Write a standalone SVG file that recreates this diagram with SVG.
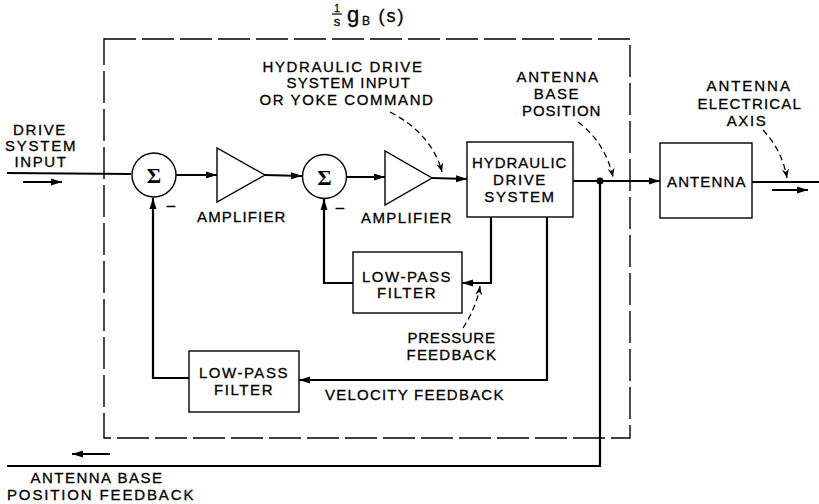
<svg xmlns="http://www.w3.org/2000/svg" width="819" height="504" viewBox="0 0 819 504">
<style>
text{font-family:"Liberation Sans",Arial,sans-serif;font-size:15px;fill:#000;stroke:#000;stroke-width:0.3;text-anchor:middle;letter-spacing:1.6px}
.ln{stroke:#000;stroke-width:2.2;fill:none}
.box{stroke:#000;stroke-width:1.4;fill:#fff}
.dash{stroke:#000;stroke-width:1.4;stroke-dasharray:32 6;fill:none}
.lead{stroke:#000;stroke-width:1.3;stroke-dasharray:6 4;fill:none}
.sig{font-family:"Liberation Serif","Times New Roman",serif;font-weight:bold;font-size:22px;letter-spacing:0;stroke-width:0}
</style>
<defs>
<marker id="ah" markerUnits="userSpaceOnUse" markerWidth="12" markerHeight="8" refX="11" refY="4" orient="auto">
<path d="M0,0.5 L11,4 L0,7.5 z" fill="#000"/>
</marker>
<marker id="lh" markerUnits="userSpaceOnUse" markerWidth="10" markerHeight="8" refX="9" refY="4" orient="auto">
<path d="M0,0.5 L9,4 L0,7.5 L3,4 z" fill="#000"/>
</marker>
</defs>

<g id="boundary">
<rect class="dash" x="104" y="39" width="526" height="399"/>
<g id="title">
<text x="337" y="12" style="font-size:10px;letter-spacing:0">1</text>
<line x1="332" y1="14" x2="342" y2="14" stroke="#000" stroke-width="1.2"/>
<text x="337" y="26" style="font-size:13px;letter-spacing:0">s</text>
<text x="353" y="22" style="font-size:22px;letter-spacing:0">g</text>
<text x="366" y="25" style="font-size:12px;letter-spacing:0">B</text>
<text x="392" y="22" style="font-size:18px;letter-spacing:2px">(s)</text>
</g>
</g>

<g id="connectors">
<path class="ln" d="M7,173 L131,174"/>
<path class="ln" d="M23,182 L62,182" marker-end="url(#ah)"/>
<path class="ln" d="M176,175 L217,175" marker-end="url(#ah)"/>
<path class="ln" d="M265,175 L302,176" marker-end="url(#ah)"/>
<path class="ln" d="M347,177 L385,177" marker-end="url(#ah)"/>
<path class="ln" d="M432,178 L467,179" marker-end="url(#ah)"/>
<path class="ln" d="M573,181 L660,181" marker-end="url(#ah)"/>
<circle cx="600" cy="181" r="3.5" fill="#000"/>
<path class="ln" d="M752,182 L819,182"/>
<path class="ln" d="M772,190 L808,190" marker-end="url(#ah)"/>
<path class="ln" d="M600,181 L600,466 L7,466"/>
<path class="ln" d="M110,454 L72,454" marker-end="url(#ah)"/>
<path class="ln" d="M491,217 L491,283 L462,283" marker-end="url(#ah)"/>
<path class="ln" d="M353,283 L324,283 L324,199" marker-end="url(#ah)"/>
<path class="ln" d="M547,217 L547,380 L299,380" marker-end="url(#ah)"/>
<path class="ln" d="M189,378 L153,378 L153,198" marker-end="url(#ah)"/>
<path class="lead" d="M390,112 Q432,134 442,172" marker-end="url(#lh)"/>
<path class="lead" d="M578,122 Q605,142 613,177" marker-end="url(#lh)"/>
<path class="lead" d="M763,130 Q782,150 787,178" marker-end="url(#lh)"/>
<path class="lead" d="M463,328 Q477,306 480,286" marker-end="url(#lh)"/>
</g>

<g id="sum1">
<circle class="box" cx="154" cy="175" r="22"/>
<text class="sig" x="154" y="183">Σ</text>
<text x="171" y="210" style="letter-spacing:0">–</text>
</g>
<g id="amp1">
<polygon class="box" points="217,148 217,202 265,175"/>
<text x="242" y="222" textLength="90" lengthAdjust="spacing">AMPLIFIER</text>
</g>
<g id="sum2">
<circle class="box" cx="324.5" cy="176.5" r="22"/>
<text class="sig" x="324.5" y="184.5">Σ</text>
<text x="340" y="212" style="letter-spacing:0">–</text>
</g>
<g id="amp2">
<polygon class="box" points="385,151 385,205 432,178"/>
<text x="407" y="223" textLength="92" lengthAdjust="spacing">AMPLIFIER</text>
</g>
<g id="hydraulic">
<rect class="box" x="467" y="142" width="106" height="75"/>
<text x="520" y="168" textLength="96" lengthAdjust="spacing">HYDRAULIC</text>
<text x="520" y="185">DRIVE</text>
<text x="520" y="202">SYSTEM</text>
</g>
<g id="antenna">
<rect class="box" x="660" y="143" width="92" height="75"/>
<text x="707" y="187" textLength="80" lengthAdjust="spacing">ANTENNA</text>
</g>
<g id="lpf1">
<rect class="box" x="353" y="252" width="109" height="61"/>
<text x="407" y="282" textLength="90" lengthAdjust="spacing">LOW-PASS</text>
<text x="407" y="298">FILTER</text>
</g>
<g id="lpf2">
<rect class="box" x="189" y="351" width="110" height="61"/>
<text x="244" y="378" textLength="90" lengthAdjust="spacing">LOW-PASS</text>
<text x="244" y="395">FILTER</text>
</g>

<g id="labels">
<text x="40" y="135">DRIVE</text>
<text x="41" y="151" textLength="72" lengthAdjust="spacing">SYSTEM</text>
<text x="41" y="167">INPUT</text>
<text x="343" y="72" textLength="161" lengthAdjust="spacing">HYDRAULIC DRIVE</text>
<text x="349" y="88" textLength="125" lengthAdjust="spacing">SYSTEM INPUT</text>
<text x="347" y="105" textLength="175" lengthAdjust="spacing">OR YOKE COMMAND</text>
<text x="558" y="82" textLength="83" lengthAdjust="spacing">ANTENNA</text>
<text x="557" y="99">BASE</text>
<text x="562" y="116" textLength="80" lengthAdjust="spacing">POSITION</text>
<text x="749" y="91" textLength="85" lengthAdjust="spacing">ANTENNA</text>
<text x="750" y="109" textLength="105" lengthAdjust="spacing">ELECTRICAL</text>
<text x="747" y="126">AXIS</text>
<text x="452" y="343" textLength="89" lengthAdjust="spacing">PRESSURE</text>
<text x="452" y="360" textLength="91" lengthAdjust="spacing">FEEDBACK</text>
<text x="415" y="400" textLength="180" lengthAdjust="spacing">VELOCITY FEEDBACK</text>
<text x="97" y="483" textLength="133" lengthAdjust="spacing">ANTENNA BASE</text>
<text x="101" y="500" textLength="188" lengthAdjust="spacing">POSITION FEEDBACK</text>
</g>
</svg>
